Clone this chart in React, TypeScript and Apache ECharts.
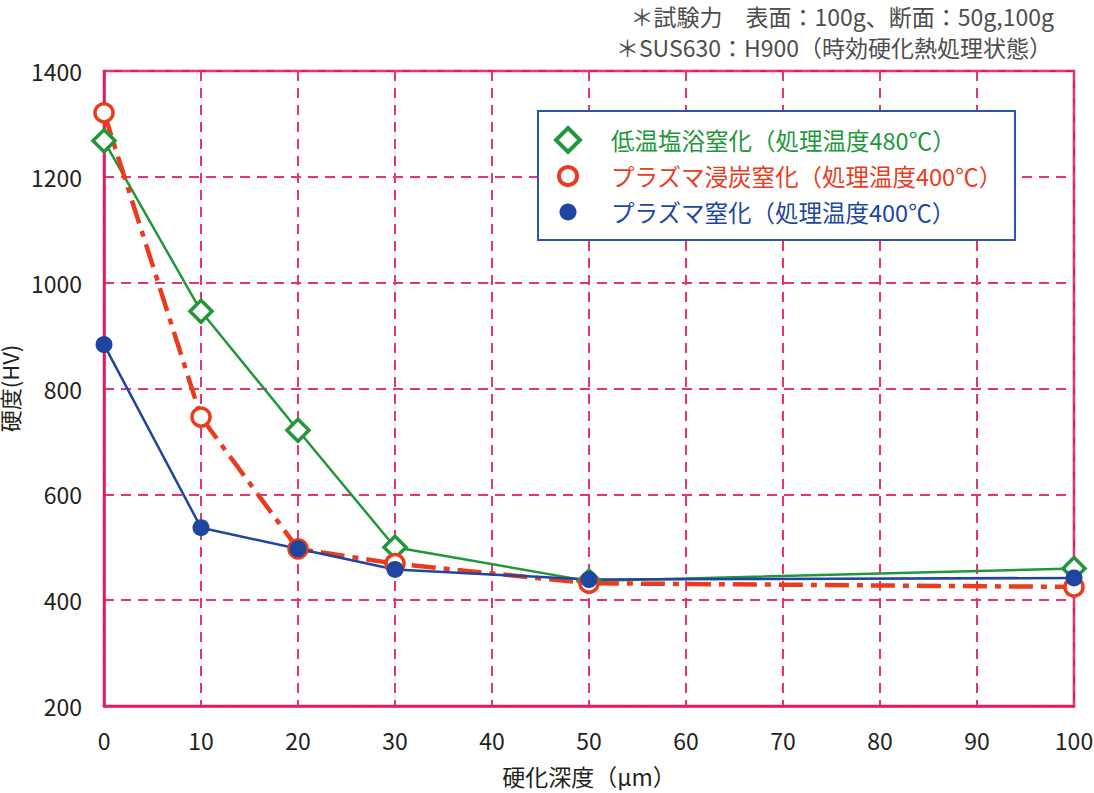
import React, { useEffect, useRef } from "react";
import * as echarts from "echarts";

const depths = [0, 10, 20, 30, 50, 100];
const seriesNames = [
  "低温塩浴窒化（処理温度480℃）",
  "プラズマ浸炭窒化（処理温度400℃）",
  "プラズマ窒化（処理温度400℃）",
];
const greenValues = [1268, 946, 721, 500, 436, 460];
const redValues = [1321, 746, 497, 469, 432, 425];
const blueValues = [883, 537, 497, 458, 439, 442];
const noteLines = [
  "＊試験力　表面：100g、断面：50g,100g",
  "＊SUS630：H900（時効硬化熱処理状態）",
];
const xName = "硬化深度（μm）";
const yName = "硬度(HV)";

const FONT = '"Noto Sans CJK JP", "Noto Sans", sans-serif';
const GREEN = "#22963b";
const RED = "#ea3c1d";
const BLUE = "#1e46a0";
const FRAME = "#e6195d";
const GRID = "#e8356f";

export default function App() {
  const ref = useRef<HTMLDivElement>(null);
  useEffect(() => {
    if (!ref.current) return;
    const chart = echarts.init(ref.current, undefined, { renderer: "svg" });
    const pairs = (vals: number[]) => depths.map((d, i) => [d, vals[i]]);
    const lx = 568;
    const tx = 611;
    const rows = [140, 176, 212];
    chart.setOption({
      animation: false,
      backgroundColor: "#fff",
      textStyle: { fontFamily: FONT },
      grid: {
        left: 104,
        right: 20,
        top: 71,
        bottom: 87,
        containLabel: false,
        outerBoundsMode: "none",
        show: true,
        borderColor: FRAME,
        borderWidth: 2.5,
        backgroundColor: "transparent",
      },
      xAxis: {
        type: "value",
        min: 0,
        max: 100,
        interval: 10,
        name: xName,
        nameLocation: "middle",
        nameGap: 58,
        nameTextStyle: { fontSize: 23, lineHeight: 24, color: "#231f20", fontFamily: FONT },
        axisLine: { show: true, lineStyle: { color: FRAME, width: 2.5 } },
        axisTick: { show: false },
        axisLabel: { fontSize: 23, color: "#231f20", margin: 22, fontFamily: FONT },
        splitLine: { show: true, lineStyle: { color: GRID, width: 2, type: [10, 7] } },
      },
      yAxis: {
        type: "value",
        min: 200,
        max: 1400,
        interval: 200,
        name: yName,
        nameLocation: "middle",
        nameGap: 78,
        nameTextStyle: { fontSize: 22, lineHeight: 22, color: "#231f20", fontFamily: FONT },
        axisLine: { show: true, lineStyle: { color: FRAME, width: 2.5 } },
        axisTick: { show: false },
        axisLabel: {
          fontSize: 23,
          color: "#231f20",
          margin: 22,
          fontFamily: FONT,
          formatter: (v: number) => String(v),
        },
        splitLine: { show: true, lineStyle: { color: GRID, width: 2, type: [10, 7] } },
      },
      series: [
        {
          name: seriesNames[0],
          type: "line",
          data: pairs(greenValues),
          symbol: "diamond",
          symbolSize: 22,
          lineStyle: { color: GREEN, width: 2.5 },
          itemStyle: { color: "#fff", borderColor: GREEN, borderWidth: 3.5 },
        },
        {
          name: seriesNames[1],
          type: "line",
          data: pairs(redValues),
          symbol: "circle",
          symbolSize: 18,
          lineStyle: { color: RED, width: 4.5, type: [24, 8, 6, 8] },
          itemStyle: { color: "#fff", borderColor: RED, borderWidth: 3.5 },
        },
        {
          name: seriesNames[2],
          type: "line",
          data: pairs(blueValues),
          symbol: "circle",
          symbolSize: 17,
          lineStyle: { color: BLUE, width: 2.5 },
          itemStyle: { color: BLUE, borderWidth: 0 },
        },
      ],
      graphic: [
        {
          type: "text",
          z: 20,
          x: 1054,
          y: 16,
          style: {
            text: noteLines[0],
            fontSize: 23,
            lineHeight: 23,
            fontFamily: FONT,
            fill: "#4d4d4d",
            align: "right",
            verticalAlign: "middle",
          },
        },
        {
          type: "text",
          z: 20,
          x: 1052,
          y: 47,
          style: {
            text: noteLines[1],
            fontSize: 23,
            lineHeight: 23,
            fontFamily: FONT,
            fill: "#4d4d4d",
            align: "right",
            verticalAlign: "middle",
          },
        },
        {
          type: "rect",
          z: 20,
          shape: { x: 538, y: 111, width: 477, height: 129 },
          style: { fill: "#fff", stroke: "#2a55a8", lineWidth: 2 },
        },
        {
          type: "polygon",
          z: 21,
          shape: {
            points: [
              [lx, rows[0] - 12],
              [lx + 12, rows[0]],
              [lx, rows[0] + 12],
              [lx - 12, rows[0]],
            ],
          },
          style: { fill: "#fff", stroke: GREEN, lineWidth: 4 },
        },
        {
          type: "circle",
          z: 21,
          shape: { cx: lx, cy: rows[1], r: 9 },
          style: { fill: "#fff", stroke: RED, lineWidth: 4 },
        },
        {
          type: "circle",
          z: 21,
          shape: { cx: lx, cy: rows[2], r: 8.5 },
          style: { fill: BLUE },
        },
        ...[GREEN, RED, BLUE].map((c, i) => ({
          type: "text",
          z: 21,
          x: tx,
          y: rows[i],
          style: {
            text: seriesNames[i],
            fontSize: 23.5,
            fontFamily: FONT,
            fill: c,
            verticalAlign: "middle",
            align: "left",
          },
        })),
      ],
    });
    return () => chart.dispose();
  }, []);
  return (
    <div
      ref={ref}
      style={{ position: "fixed", left: 0, top: 0, width: 1094, height: 793 }}
    />
  );
}
